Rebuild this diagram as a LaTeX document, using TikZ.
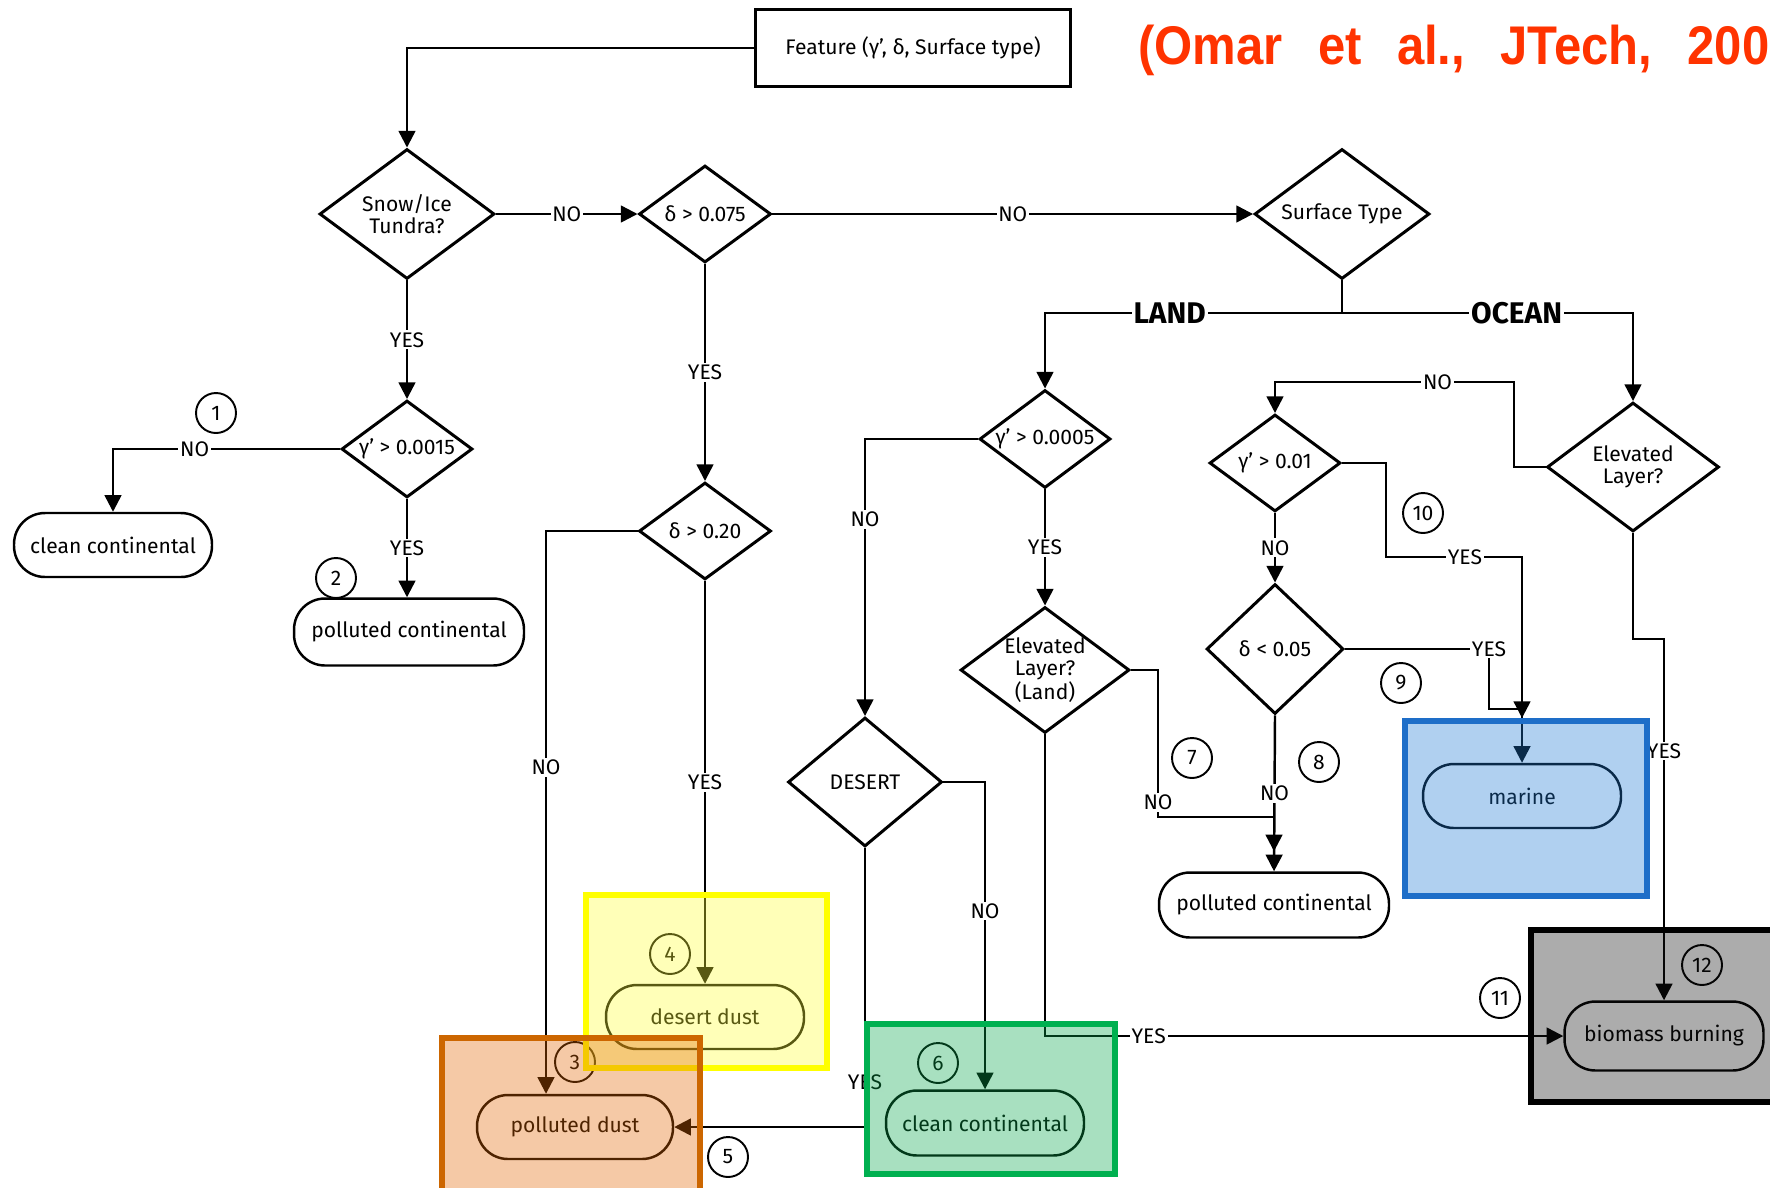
\documentclass[tikz,border=0pt]{standalone}
\usepackage{fontspec}
\setmainfont{Fira Sans}
\newfontfamily\citefont{Liberation Sans}[FakeStretch=0.9,WordSpace=2.6]
\usepackage{tikz}
\usepackage{xcolor}
\usetikzlibrary{arrows.meta,shapes.geometric}

\definecolor{citered}{RGB}{255,51,0}
\definecolor{dustline}{RGB}{255,255,0}
\definecolor{dustfill}{RGB}{255,255,52}
\definecolor{pdline}{RGB}{204,102,0}
\definecolor{pdfill}{RGB}{226,101,0}
\definecolor{ccline}{RGB}{0,176,80}
\definecolor{ccfill}{RGB}{6,166,75}
\definecolor{marline}{RGB}{30,110,200}
\definecolor{marfill}{RGB}{29,121,212}
\definecolor{bbfill}{RGB}{16,16,16}

\tikzset{
	check/.style={diamond, draw, line width=1.7pt, aspect=1.35, inner sep=-2pt, align=center, font=\fontsize{12}{12.5}\selectfont},
	result/.style={rectangle, rounded corners=0.62cm, draw, line width=1.4pt, minimum width=3.96cm, minimum height=1.28cm, font=\fontsize{12}{14}\selectfont},
	num/.style={circle, draw, line width=1.1pt, minimum size=0.8cm, inner sep=0pt, font=\fontsize{12}{14}\selectfont},
	ans/.style={fill=white, inner sep=1pt, font=\fontsize{12}{14}\selectfont},
	branch/.style={fill=white, inner sep=1pt, font=\bfseries\fontsize{17}{20}\selectfont},
	flow/.style={line width=1.4pt, -{Triangle[length=9.5pt,width=9.5pt]}},
	wire/.style={line width=1.4pt},
	hilite/.style={line width=3pt, fill opacity=0.35},
}

\begin{document}
\begin{tikzpicture}[x=0.02cm, y=-0.02cm]
	\useasboundingbox (0,0) rectangle (1770,1187);
	
	\node[anchor=base west, inner sep=0pt, text=citered, font=\citefont\bfseries\fontsize{31}{36}\selectfont] (cite) at (1138,64) {(Omar et al., JTech, 2009)};
	\node[rectangle, draw, line width=1.6pt, minimum width=6.3cm, minimum height=1.54cm, font=\fontsize{12}{14}\selectfont] (feat) at (913,48) {Feature (γ', δ, Surface type)};
	
	\node[check, minimum width=3.5cm, minimum height=2.6cm] (snow) at (407,214) {Snow/Ice\\Tundra?};
	\node[check, minimum width=2.64cm, minimum height=1.94cm] (dA) at (705,214) {δ > 0.075};
	\node[check, minimum width=3.5cm, minimum height=2.6cm] (surf) at (1342,214) {Surface Type};
	\node[check, minimum width=2.62cm, minimum height=1.94cm] (gA) at (407,449) {γ' > 0.0015};
	\node[check, minimum width=2.64cm, minimum height=1.94cm] (dB) at (705,531) {δ > 0.20};
	\node[check, minimum width=3.08cm, minimum height=2.58cm] (desert) at (865,782) {DESERT};
	\node[check, minimum width=2.62cm, minimum height=1.96cm] (gB) at (1045,439) {γ' > 0.0005};
	\node[check, minimum width=3.38cm, minimum height=2.52cm] (elL) at (1045,670) {Elevated\\Layer?\\(Land)};
	\node[check, minimum width=2.62cm, minimum height=1.94cm] (gC) at (1275,463) {γ' > 0.01};
	\node[check, minimum width=2.74cm, minimum height=2.6cm] (dC) at (1275,649) {δ < 0.05};
	\node[check, minimum width=3.44cm, minimum height=2.58cm] (elO) at (1633,467) {Elevated\\Layer?};
	
	\node[result] (cc1) at (113,545) {clean continental};
	\node[result, minimum width=4.6cm, minimum height=1.34cm] (pc1) at (409,632) {polluted continental};
	\node[result] (dd) at (705,1017) {desert dust};
	\node[result, minimum width=3.92cm] (pd) at (575,1127) {polluted dust};
	\node[result, minimum height=1.3cm] (cc2) at (985,1123) {clean continental};
	\node[result, minimum width=4.6cm, minimum height=1.3cm] (pc2) at (1274,905) {polluted continental};
	\node[result] (mar) at (1522,796) {marine};
	\node[result, minimum width=3.98cm, minimum height=1.38cm] (bb) at (1664,1036) {biomass burning};
	
	\coordinate (split) at (1342,313);
	\coordinate (dturn) at (1158,817);
	\coordinate (yturn) at (1386,557);
	\coordinate (mturn) at (1489,709);
	\coordinate (mtip) at (1522,718);
	\coordinate (oturn) at (1514,382);
	\coordinate (bturn) at (1633,639);
	
	\draw[flow] (feat.west) -| (snow.north);
	\draw[flow] (snow.east) -- node[ans]{NO} (dA.west);
	\draw[flow] (dA.east) -- node[ans]{NO} (surf.west);
	\draw[flow] (snow.south) -- node[ans]{YES} (gA.north);
	\draw[flow] (gA.west) -| node[ans, pos=0.32]{NO} (cc1.north);
	\draw[flow] (gA.south) -- node[ans]{YES} (gA.south |- pc1.north);
	\draw[flow] (dA.south) -- node[ans]{YES} (dB.north);
	\draw[flow] (dB.west) -| node[ans, pos=0.71]{NO} ([xshift=-0.58cm]pd.north);
	\draw[flow] (dB.south) -- node[ans]{YES} (dd.north);
	\draw[wire] (surf.south) -- (split);
	\draw[flow] (split) -| node[branch, pos=0.29]{LAND} (gB.north);
	\draw[flow] (split) -| node[branch, pos=0.3]{OCEAN} (elO.north);
	\draw[flow] (gB.west) -| node[ans, pos=0.645]{NO} (desert.north);
	\draw[flow] (gB.south) -- node[ans]{YES} (elL.north);
	\draw[flow] (desert.east) -| node[ans, pos=0.71]{NO} (cc2.north);
	\draw[flow] (desert.south) |- node[ans, pos=0.42]{YES} (pd.east);
	\draw[flow] (elL.south) |- node[ans, pos=0.6]{YES} (bb.west);
	\draw[flow] (elL.east) -| node[ans, pos=0.95]{NO} (dturn) -| ([yshift=0.4cm]pc2.north);
	\draw[flow] (dC.south) -- node[ans]{NO} (pc2.north);
	\draw[flow] (gC.south) -- node[ans]{NO} (dC.north);
	\draw[flow] (gC.east) -| (yturn) -| node[ans, pos=0.29]{YES} (mar.north);
	\draw[flow] (dC.east) -| node[ans]{YES} (mturn) -| (mtip);
	\draw[flow] (elO.west) -| (oturn) -| node[ans, pos=0.16]{NO} (gC.north);
	\draw[flow] (elO.south) -- (bturn) -| node[ans, pos=0.655]{YES} (bb.north);
	
	\node[num] (n1) at (216,413) {1};
	\node[num] (n2) at (336,578) {2};
	\node[num] (n3) at (575,1062) {3};
	\node[num] (n4) at (670,954) {4};
	\node[num] (n5) at (728,1157) {5};
	\node[num] (n6) at (938,1063) {6};
	\node[num] (n7) at (1192,758) {7};
	\node[num] (n8) at (1319,762) {8};
	\node[num] (n9) at (1401,683) {9};
	\node[num] (n10) at (1423,513) {10};
	\node[num] (n11) at (1500,998) {11};
	\node[num] (n12) at (1702,965) {12};
	
	\draw[hilite, draw=dustline, fill=dustfill] (586,895) rectangle (827,1068);
	\draw[hilite, draw=pdline, fill=pdfill] (442,1038) rectangle (700,1210);
	\draw[hilite, draw=ccline, fill=ccfill] (867,1024) rectangle (1115,1174);
	\draw[hilite, draw=marline, fill=marfill] (1405,721) rectangle (1647,896);
	\draw[hilite, draw=black, fill=bbfill] (1531,930) rectangle (1800,1102);
\end{tikzpicture}
\end{document}
